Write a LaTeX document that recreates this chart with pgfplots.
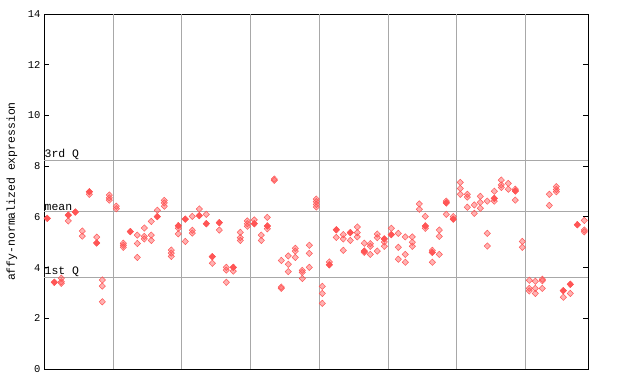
\documentclass[border=0pt]{standalone}
\usepackage{fontspec}
\setmainfont{Liberation Mono}
\setmonofont{Liberation Mono}
\usepackage{pgfplots}
\pgfplotsset{compat=1.18}
\definecolor{pt}{HTML}{FF5555}
\definecolor{gl}{HTML}{A8A8A8}
\begin{document}
\begin{tikzpicture}
\path[use as bounding box] (0,0) rectangle (640bp,384bp);
\begin{axis}[
  at={(44bp,15bp)}, anchor=south west,
  scale only axis, width=544bp, height=355bp,
  xmin=44, xmax=588, ymin=0, ymax=14,
  xtick=\empty,
  ytick={0,2,4,6,8,10,12,14},
  tick align=inside, major tick length=5bp,
  ytick pos=both,
  yticklabel pos=left,
  yticklabel style={font=\fontsize{10.5}{10.5}\selectfont, /pgf/number format/assume math mode=true},
  tick style={black, line width=0.8pt},
  axis line style={black, line width=0.8pt},
  ylabel={affy-normalized expression},
  ylabel style={font=\fontsize{11.5}{11.5}\selectfont, at={(axis description cs:-0.0588,0.5)}, anchor=center},
  clip=false,
]
\pgfplotsinvokeforeach{113,181.7,250.3,319.3,388.5,456.5,525.3}{
  \draw[gl, line width=0.8pt] (axis cs:#1,0) -- (axis cs:#1,14);
}
\draw[gl, line width=0.8pt] (axis cs:44,8.23) -- (axis cs:588,8.23);
\draw[gl, line width=0.8pt] (axis cs:44,6.23) -- (axis cs:588,6.23);
\draw[gl, line width=0.8pt] (axis cs:44,3.63) -- (axis cs:588,3.63);
\node[anchor=south west, inner sep=0.5bp, font=\fontsize{11.5}{11.5}\selectfont] at (axis cs:44,8.23) {3rd Q};
\node[anchor=south west, inner sep=0.5bp, font=\fontsize{11.5}{11.5}\selectfont] at (axis cs:44,6.23) {mean};
\node[anchor=south west, inner sep=0.5bp, font=\fontsize{11.5}{11.5}\selectfont] at (axis cs:44,3.63) {1st Q};
\addplot[only marks, mark=diamond*, mark size=3.2bp, mark options={xscale=1.3, draw=pt, fill=pt, fill opacity=0.45, line width=0.5pt}] coordinates {
(47.3,5.94)(54.3,3.42)(61.3,3.58)(61.3,3.44)(61.3,3.38)(68.3,6.07)(68.3,5.84)(75.3,6.19)
(82.3,5.44)(82.3,5.24)(89.3,6.99)(89.3,6.89)(96.7,5.20)(96.7,4.97)(102.3,3.51)(102.3,3.27)(102.3,2.65)
(109.3,6.86)(109.3,6.75)(109.3,6.66)(116.3,6.42)(116.3,6.32)(123.3,4.96)(123.3,4.88)(123.3,4.80)
(130.3,5.42)(137.3,5.28)(137.3,4.95)(137.3,4.40)(144.3,5.56)(144.3,5.23)(144.3,5.13)
(151.3,5.82)(151.3,5.28)(151.3,5.07)(157.3,6.26)(157.3,6.01)(164.3,6.65)(164.3,6.55)(164.3,6.42)
(171.3,4.69)(171.3,4.57)(171.3,4.44)(178.3,5.65)(178.3,5.55)(178.3,5.33)(185.3,5.91)(185.3,5.03)
(192.3,6.02)(192.3,5.47)(192.3,5.36)(199.3,6.31)(199.3,6.05)(206.3,6.10)(206.3,5.73)
(212.3,4.43)(212.3,4.17)(219.3,5.77)(219.3,5.48)(226.3,4.01)(226.3,3.90)(226.3,3.42)
(233.3,4.01)(233.3,3.86)(240.3,5.39)(240.3,5.18)(240.3,5.07)(247.3,5.84)(247.3,5.73)(247.3,5.63)
(254.3,5.88)(254.3,5.73)(261.3,5.28)(261.3,5.07)(267.3,5.98)(267.3,5.64)(267.3,5.53)
(274.3,7.49)(274.3,7.44)(281.3,4.28)(281.3,3.23)(281.3,3.18)(288.3,4.46)(288.3,4.13)(288.3,3.84)
(295.3,4.76)(295.3,4.65)(295.3,4.40)(302.3,3.89)(302.3,3.81)(302.3,3.57)(309.3,4.88)(309.3,4.56)(309.3,4.01)
(316.3,6.70)(316.3,6.60)(316.3,6.49)(316.3,6.39)(322.3,3.26)(322.3,2.98)(322.3,2.59)
(329.3,4.22)(329.3,4.11)(336.3,5.49)(336.3,5.19)(343.3,5.30)(343.3,5.13)(343.3,4.68)
(350.3,5.38)(350.3,5.07)(357.3,5.60)(357.3,5.38)(357.3,5.21)(364.3,4.96)(364.3,4.65)(364.3,4.60)
(370.3,4.94)(370.3,4.84)(370.3,4.52)(377.3,5.32)(377.3,5.18)(377.3,4.65)(384.3,5.13)(384.3,5.01)(384.3,4.84)
(391.3,5.55)(391.3,5.30)(398.3,5.35)(398.3,4.80)(398.3,4.33)(405.3,5.21)(405.3,4.52)(405.3,4.21)
(412.3,5.21)(412.3,5.00)(412.3,4.84)(419.3,6.51)(419.3,6.30)(425.3,6.02)(425.3,5.64)(425.3,5.55)
(432.3,4.68)(432.3,4.60)(432.3,4.21)(439.3,5.48)(439.3,5.23)(439.3,4.52)(446.3,6.62)(446.3,6.55)(446.3,6.10)
(453.3,6.01)(453.3,5.91)(460.3,7.36)(460.3,7.12)(460.3,6.89)(467.3,6.89)(467.3,6.78)(467.3,6.38)
(474.3,6.47)(474.3,6.14)(480.3,6.81)(480.3,6.57)(480.3,6.34)(487.3,6.62)(487.3,5.35)(487.3,4.85)
(494.3,7.01)(494.3,6.73)(494.3,6.62)(501.3,7.45)(501.3,7.26)(501.3,7.16)(508.3,7.32)(508.3,7.09)
(515.3,7.09)(515.3,7.02)(515.3,6.66)(522.3,5.03)(522.3,4.80)(529.3,3.50)(529.3,3.18)(529.3,3.08)
(535.3,3.46)(535.3,3.18)(535.3,2.98)(542.3,3.54)(542.3,3.48)(542.3,3.18)(549.3,6.89)(549.3,6.45)
(556.3,7.19)(556.3,7.08)(556.3,6.99)(563.3,3.09)(563.3,2.83)(570.3,3.34)(570.3,2.98)(577.3,5.69)
(584.3,5.86)(584.3,5.48)(584.3,5.41)
};
\addplot[only marks, mark=diamond*, mark size=3.2bp, mark options={xscale=1.3, draw=pt, fill=pt, line width=0.5pt}] coordinates {
(47.3,5.94)(54.3,3.42)(68.3,6.07)(75.3,6.19)(89.3,6.99)(96.7,4.97)(130.3,5.42)(157.3,6.01)
(178.3,5.65)(185.3,5.91)(199.3,6.05)(206.3,5.73)(212.3,4.43)(219.3,5.77)(233.3,4.01)(254.3,5.73)
(267.3,5.64)(329.3,4.11)(336.3,5.49)(350.3,5.38)(364.3,4.65)(384.3,5.13)(391.3,5.30)(425.3,5.64)
(432.3,4.60)(446.3,6.55)(453.3,5.91)(494.3,6.73)(515.3,7.02)(563.3,3.09)(570.3,3.34)(577.3,5.69)
};
\end{axis}
\end{tikzpicture}
\end{document}
